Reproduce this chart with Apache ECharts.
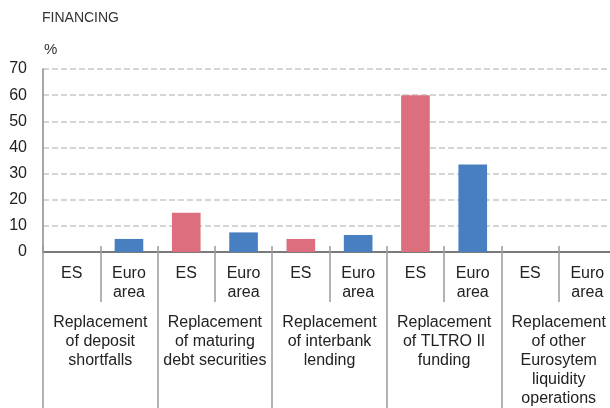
<!DOCTYPE html>
<html>
<head>
<meta charset="utf-8">
<script src="https://cdn.jsdelivr.net/npm/echarts@6/dist/echarts.min.js"></script>
<style>
  html, body { margin: 0; padding: 0; background: #fff; }
  #chart { width: 610px; height: 408px; }
</style>
</head>
<body>
<div id="chart"></div>
<script>
// 数据
var groups = [
  'Replacement\nof deposit\nshortfalls',
  'Replacement\nof maturing\ndebt securities',
  'Replacement\nof interbank\nlending',
  'Replacement\nof TLTRO II\nfunding',
  'Replacement\nof other\nEurosytem\nliquidity\noperations'
]
var subLabels = ['ES', 'Euro\narea']
var esValues = [0, 15, 5, 60, 0]
var euroValues = [5, 7.5, 6.5, 33.5, 0]
var yTicks = [0, 10, 20, 30, 40, 50, 60, 70]

var esColor = '#dc6e7e'
var euroColor = '#487fc0'
var font = 'Liberation Sans'

var categories = []
var barData = []
groups.forEach(function (g, i) {
  categories.push(subLabels[0], subLabels[1])
  barData.push({ value: esValues[i], itemStyle: { color: esColor } })
  barData.push({ value: euroValues[i], itemStyle: { color: euroColor } })
})

let myChart = echarts.init(document.getElementById('chart'))
let option = {
  animation: false,
  textStyle: { fontFamily: font },
  title: {
    text: 'FINANCING',
    left: 37,
    top: 6,
    textStyle: { fontSize: 14, fontWeight: 'normal', color: '#333', fontFamily: font }
  },
  grid: { left: 43, width: 573, top: 69, bottom: 156, outerBoundsMode: 'none' },
  xAxis: [
    {
      type: 'category',
      data: categories,
      axisLine: { show: true, onZero: false, lineStyle: { color: '#7a7a7a', width: 2 } },
      axisTick: { show: true, length: 50, lineStyle: { color: '#9a9a9a', width: 1.5 } },
      axisLabel: { interval: 0, margin: 12, fontSize: 16, lineHeight: 19, color: '#222' }
    },
    {
      type: 'category',
      data: groups,
      position: 'bottom',
      axisLine: { show: false, onZero: false },
      axisTick: { show: true, length: 160, lineStyle: { color: '#9a9a9a', width: 1.5 } },
      axisLabel: { interval: 0, margin: 61, fontSize: 16, lineHeight: 19, color: '#222' }
    },
    {
      type: 'category',
      data: categories,
      position: 'bottom',
      axisLine: { show: false, onZero: false },
      axisTick: { show: true, inside: true, length: 6, lineStyle: { color: '#9a9a9a', width: 1.5 } },
      axisLabel: { show: false }
    }
  ],
  yAxis: {
    type: 'value',
    min: yTicks[0],
    max: yTicks[yTicks.length - 1],
    interval: 10,
    name: '%',
    nameLocation: 'end',
    nameGap: 12,
    nameTextStyle: { align: 'left', fontSize: 15, color: '#333', padding: [0, 0, 0, 1] },
    axisLine: { show: true, onZero: false, lineStyle: { color: '#8a8a8a', width: 1.5 } },
    axisTick: { show: false },
    axisLabel: { margin: 16, fontSize: 16, color: '#222' },
    splitLine: { show: true, lineStyle: { color: '#c8c8c8', type: [6, 3], width: 1.5 } }
  },
  series: [
    {
      type: 'bar',
      data: barData,
      barWidth: '50%'
    }
  ]
}
myChart.setOption(option)
</script>
</body>
</html>
